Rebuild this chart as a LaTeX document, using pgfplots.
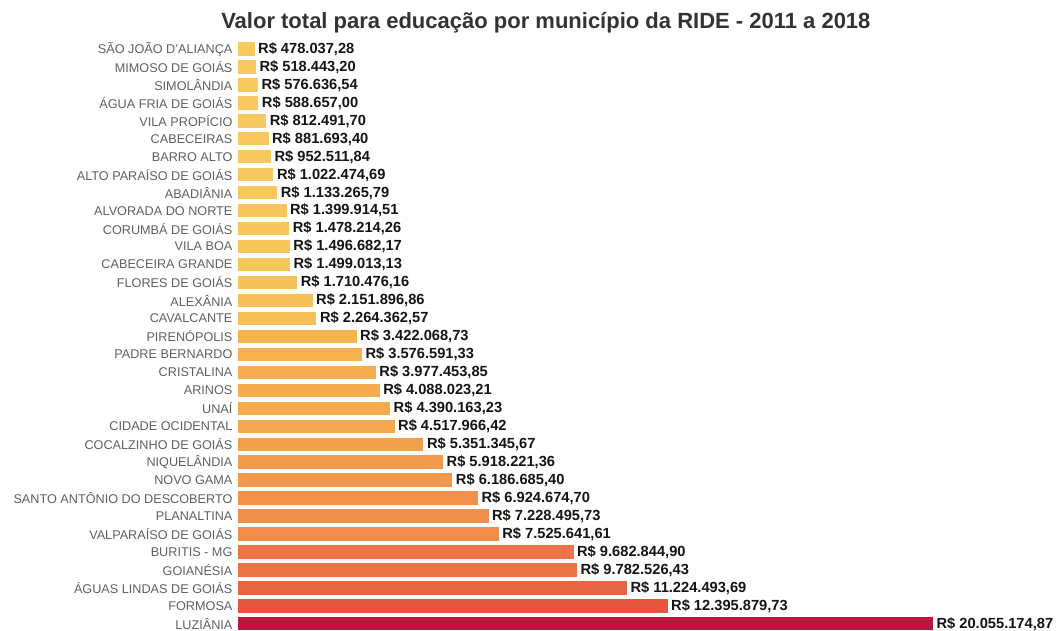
\documentclass[border=0pt]{standalone}
\usepackage{pgfplots}
\pgfplotsset{compat=1.18}
\usepackage{fontspec}
\setmainfont{Liberation Sans}
\definecolor{titlegray}{RGB}{51,51,51}
\definecolor{labgray}{RGB}{95,95,95}
\definecolor{valtext}{RGB}{20,20,20}
\definecolor{c0}{RGB}{247,202,96}
\definecolor{c1}{RGB}{247,202,96}
\definecolor{c2}{RGB}{247,201,96}
\definecolor{c3}{RGB}{247,201,96}
\definecolor{c4}{RGB}{246,200,95}
\definecolor{c5}{RGB}{246,200,94}
\definecolor{c6}{RGB}{246,200,94}
\definecolor{c7}{RGB}{246,199,94}
\definecolor{c8}{RGB}{246,199,93}
\definecolor{c9}{RGB}{246,197,92}
\definecolor{c10}{RGB}{246,197,92}
\definecolor{c11}{RGB}{246,197,92}
\definecolor{c12}{RGB}{246,197,92}
\definecolor{c13}{RGB}{246,195,91}
\definecolor{c14}{RGB}{246,191,87}
\definecolor{c15}{RGB}{246,190,87}
\definecolor{c16}{RGB}{246,179,79}
\definecolor{c17}{RGB}{246,177,78}
\definecolor{c18}{RGB}{245,173,78}
\definecolor{c19}{RGB}{245,172,78}
\definecolor{c20}{RGB}{245,170,78}
\definecolor{c21}{RGB}{244,168,77}
\definecolor{c22}{RGB}{243,160,77}
\definecolor{c23}{RGB}{242,155,77}
\definecolor{c24}{RGB}{242,152,76}
\definecolor{c25}{RGB}{241,145,76}
\definecolor{c26}{RGB}{240,143,76}
\definecolor{c27}{RGB}{240,140,76}
\definecolor{c28}{RGB}{235,117,70}
\definecolor{c29}{RGB}{235,116,70}
\definecolor{c30}{RGB}{231,100,66}
\definecolor{c31}{RGB}{228,88,63}
\definecolor{c32}{RGB}{184,24,60}
\begin{document}
\begin{tikzpicture}
\begin{axis}[
  name=ax,
  scale only axis,
  width=521.25pt, height=444.6pt,
  xmin=0, xmax=20055174.87,
  ymin=-0.6, ymax=32.4,
  y dir=reverse,
  axis line style={draw=none},
  xtick=\empty,
  ytick={0,...,32},
  major tick length=0pt,
  yticklabels={SÃO JOÃO D'ALIANÇA, MIMOSO DE GOIÁS, SIMOLÂNDIA, ÁGUA FRIA DE GOIÁS, VILA PROPÍCIO, CABECEIRAS, BARRO ALTO, ALTO PARAÍSO DE GOIÁS, ABADIÂNIA, ALVORADA DO NORTE, CORUMBÁ DE GOIÁS, VILA BOA, CABECEIRA GRANDE, FLORES DE GOIÁS, ALEXÂNIA, CAVALCANTE, PIRENÓPOLIS, PADRE BERNARDO, CRISTALINA, ARINOS, UNAÍ, CIDADE OCIDENTAL, COCALZINHO DE GOIÁS, NIQUELÂNDIA, NOVO GAMA, SANTO ANTÔNIO DO DESCOBERTO, PLANALTINA, VALPARAÍSO DE GOIÁS, BURITIS - MG, GOIANÉSIA, ÁGUAS LINDAS DE GOIÁS, FORMOSA, LUZIÂNIA},
  yticklabel style={font=\fontsize{9.5}{11}\selectfont, text=labgray, inner sep=2pt, xshift=-2pt},
  title={Valor total para educação por município da RIDE - 2011 a 2018},
  title style={font=\fontsize{16.5}{19}\bfseries\selectfont, text=titlegray, anchor=base, at={(axis description cs:0.443,1)}, yshift=1.5pt},
  clip=false,
  b/.style={xbar, bar width=10pt, bar shift=0pt, draw=none, fill=#1, forget plot},
]
\addplot[b=c0] coordinates {(478037.28,0)};
\addplot[b=c1] coordinates {(518443.20,1)};
\addplot[b=c2] coordinates {(576636.54,2)};
\addplot[b=c3] coordinates {(588657.00,3)};
\addplot[b=c4] coordinates {(812491.70,4)};
\addplot[b=c5] coordinates {(881693.40,5)};
\addplot[b=c6] coordinates {(952511.84,6)};
\addplot[b=c7] coordinates {(1022474.69,7)};
\addplot[b=c8] coordinates {(1133265.79,8)};
\addplot[b=c9] coordinates {(1399914.51,9)};
\addplot[b=c10] coordinates {(1478214.26,10)};
\addplot[b=c11] coordinates {(1496682.17,11)};
\addplot[b=c12] coordinates {(1499013.13,12)};
\addplot[b=c13] coordinates {(1710476.16,13)};
\addplot[b=c14] coordinates {(2151896.86,14)};
\addplot[b=c15] coordinates {(2264362.57,15)};
\addplot[b=c16] coordinates {(3422068.73,16)};
\addplot[b=c17] coordinates {(3576591.33,17)};
\addplot[b=c18] coordinates {(3977453.85,18)};
\addplot[b=c19] coordinates {(4088023.21,19)};
\addplot[b=c20] coordinates {(4390163.23,20)};
\addplot[b=c21] coordinates {(4517966.42,21)};
\addplot[b=c22] coordinates {(5351345.67,22)};
\addplot[b=c23] coordinates {(5918221.36,23)};
\addplot[b=c24] coordinates {(6186685.40,24)};
\addplot[b=c25] coordinates {(6924674.70,25)};
\addplot[b=c26] coordinates {(7228495.73,26)};
\addplot[b=c27] coordinates {(7525641.61,27)};
\addplot[b=c28] coordinates {(9682844.90,28)};
\addplot[b=c29] coordinates {(9782526.43,29)};
\addplot[b=c30] coordinates {(11224493.69,30)};
\addplot[b=c31] coordinates {(12395879.73,31)};
\addplot[b=c32] coordinates {(20055174.87,32)};
\addplot[xbar, bar width=10pt, bar shift=0pt, draw=none, fill=none, point meta=explicit symbolic,
  nodes near coords, nodes near coords align=horizontal,
  every node near coord/.append style={anchor=west, inner sep=2.5pt, font=\fontsize{11}{13}\bfseries\selectfont, text=valtext}] coordinates {
(478037.28,0) [R\$ 478.037,28]
(518443.20,1) [R\$ 518.443,20]
(576636.54,2) [R\$ 576.636,54]
(588657.00,3) [R\$ 588.657,00]
(812491.70,4) [R\$ 812.491,70]
(881693.40,5) [R\$ 881.693,40]
(952511.84,6) [R\$ 952.511,84]
(1022474.69,7) [R\$ 1.022.474,69]
(1133265.79,8) [R\$ 1.133.265,79]
(1399914.51,9) [R\$ 1.399.914,51]
(1478214.26,10) [R\$ 1.478.214,26]
(1496682.17,11) [R\$ 1.496.682,17]
(1499013.13,12) [R\$ 1.499.013,13]
(1710476.16,13) [R\$ 1.710.476,16]
(2151896.86,14) [R\$ 2.151.896,86]
(2264362.57,15) [R\$ 2.264.362,57]
(3422068.73,16) [R\$ 3.422.068,73]
(3576591.33,17) [R\$ 3.576.591,33]
(3977453.85,18) [R\$ 3.977.453,85]
(4088023.21,19) [R\$ 4.088.023,21]
(4390163.23,20) [R\$ 4.390.163,23]
(4517966.42,21) [R\$ 4.517.966,42]
(5351345.67,22) [R\$ 5.351.345,67]
(5918221.36,23) [R\$ 5.918.221,36]
(6186685.40,24) [R\$ 6.186.685,40]
(6924674.70,25) [R\$ 6.924.674,70]
(7228495.73,26) [R\$ 7.228.495,73]
(7525641.61,27) [R\$ 7.525.641,61]
(9682844.90,28) [R\$ 9.682.844,90]
(9782526.43,29) [R\$ 9.782.526,43]
(11224493.69,30) [R\$ 11.224.493,69]
(12395879.73,31) [R\$ 12.395.879,73]
(20055174.87,32) [R\$ 20.055.174,87]
};
\end{axis}
\pgfresetboundingbox
\path (ax.south west) ++(-178.5pt,0.75pt) rectangle ++(794.25pt,472.5pt);
\end{tikzpicture}
\end{document}
